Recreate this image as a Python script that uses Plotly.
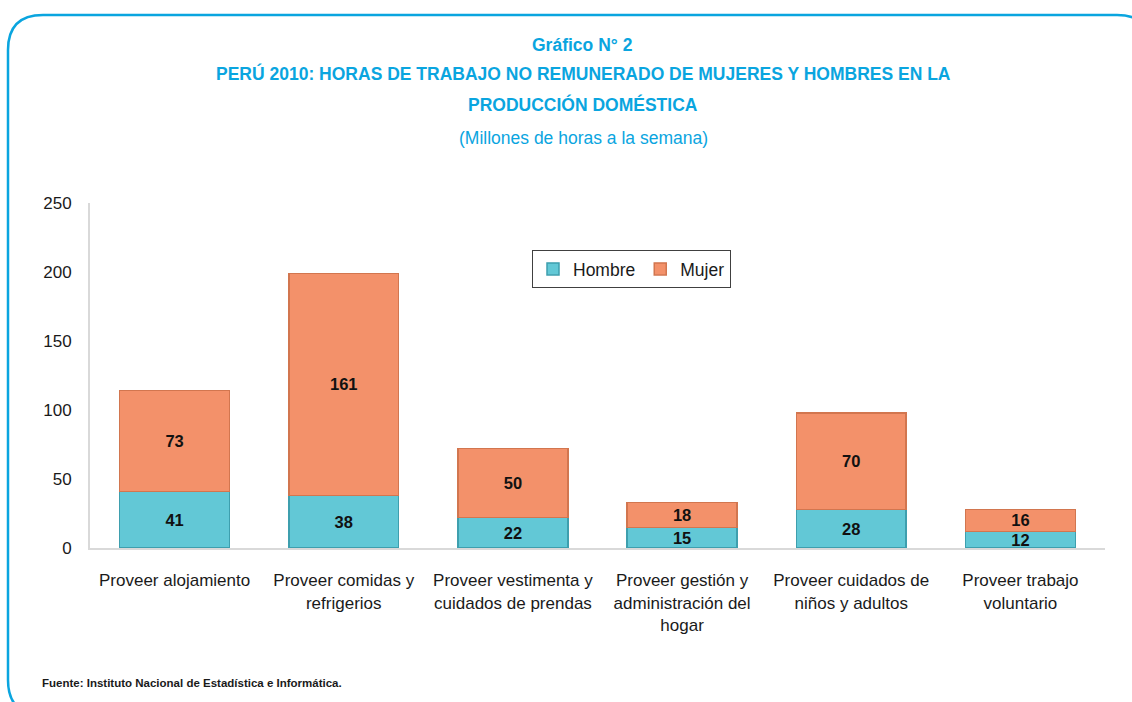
import plotly.graph_objects as go

categories = [
    "Proveer alojamiento",
    "Proveer comidas y<br>refrigerios",
    "Proveer vestimenta y<br>cuidados de prendas",
    "Proveer gestión y<br>administración del<br>hogar",
    "Proveer cuidados de<br>niños y adultos",
    "Proveer trabajo<br>voluntario",
]
hombre = [41, 38, 22, 15, 28, 12]
mujer = [73, 161, 50, 18, 70, 16]
y_ticks = [0, 50, 100, 150, 200, 250]

W, H = 1132, 702
L, R, T, B = 90, 27, 203, 154
PW, PH = W - L - R, H - T - B

def px(x):
    return (x - L) / PW

def py(y):
    return (H - B - y) / PH

FONT = "Liberation Sans, Arial, sans-serif"
BLUE = "#0AA5DF"
TXT = "#1a1a1a"

fig = go.Figure()
fig.add_trace(go.Bar(
    name="Hombre", x=categories, y=hombre,
    marker=dict(color="#62C8D6", line=dict(color="#3E9FAE", width=1.5)),
    text=hombre, textposition="inside", insidetextanchor="middle",
    textfont=dict(family=FONT, size=16.5, color="#111111", weight="bold"),
    constraintext="none",
))
fig.add_trace(go.Bar(
    name="Mujer", x=categories, y=mujer,
    marker=dict(color="#F3916A", line=dict(color="#D2764F", width=1.5)),
    text=mujer, textposition="inside", insidetextanchor="middle",
    textfont=dict(family=FONT, size=16.5, color="#111111", weight="bold"),
    constraintext="none",
))

r = 35
x0, x1, y0, y1 = 8, 1152, 15, 715
path = (f"M {px(x0)},{py(y0 + r)} L {px(x0)},{py(y1 - r)} "
        f"Q {px(x0)},{py(y1)} {px(x0 + r)},{py(y1)} "
        f"L {px(x1 - r)},{py(y1)} Q {px(x1)},{py(y1)} {px(x1)},{py(y1 - r)} "
        f"L {px(x1)},{py(y0 + r)} Q {px(x1)},{py(y0)} {px(x1 - r)},{py(y0)} "
        f"L {px(x0 + r)},{py(y0)} Q {px(x0)},{py(y0)} {px(x0)},{py(y0 + r)} Z")

def ann(text, x, y, size, color, xanchor="center"):
    return dict(text=text, x=px(x), y=py(y), xref="paper", yref="paper",
                xanchor=xanchor, yanchor="middle", showarrow=False,
                font=dict(family=FONT, size=size, color=color))

fig.update_layout(
    width=W, height=H,
    margin=dict(l=L, r=R, t=T, b=B, autoexpand=False),
    barmode="stack", bargap=0.35,
    plot_bgcolor="white", paper_bgcolor="white",
    font=dict(family=FONT, size=17, color=TXT),
    uniformtext=dict(mode="show", minsize=16.5),
    showlegend=True,
    legend=dict(
        orientation="h", x=px(532), y=py(250), xanchor="left", yanchor="top",
        bordercolor="#404040", borderwidth=1, bgcolor="white",
        font=dict(family=FONT, size=17.5, color=TXT),
        itemwidth=30, traceorder="normal",
    ),
    xaxis=dict(
        showline=True, linecolor="#D9D9D9", linewidth=2, showgrid=False,
        ticks="", tickangle=0, automargin=False,
        tickfont=dict(family=FONT, size=17, color=TXT),
        ticklabelstandoff=16,
    ),
    yaxis=dict(
        range=[0, 250], tickvals=y_ticks, showline=True, linecolor="#D9D9D9",
        linewidth=2, showgrid=False, zeroline=False, ticks="", automargin=False,
        tickfont=dict(family=FONT, size=17, color=TXT),
        ticklabelstandoff=13,
    ),
    shapes=[dict(type="path", xref="paper", yref="paper", path=path,
                 line=dict(color=BLUE, width=2.5), layer="below")],
    annotations=[
        ann("<b>Gráfico N° 2</b>", 582, 45, 17.5, BLUE),
        ann("<b>PERÚ 2010: HORAS DE TRABAJO NO REMUNERADO DE MUJERES Y HOMBRES EN LA</b>",
            583, 74, 17.5, BLUE),
        ann("<b>PRODUCCIÓN DOMÉSTICA</b>", 583, 105, 17.5, BLUE),
        ann("(Millones de horas a la semana)", 583, 138, 17.5, BLUE),
        ann("<b>Fuente: Instituto Nacional de Estadística e Informática.</b>",
            40, 683, 11.5, TXT, xanchor="left"),
    ],
)

fig.write_html("out.html", config={"displayModeBar": False},
               post_script="document.body.style.margin='0';")
